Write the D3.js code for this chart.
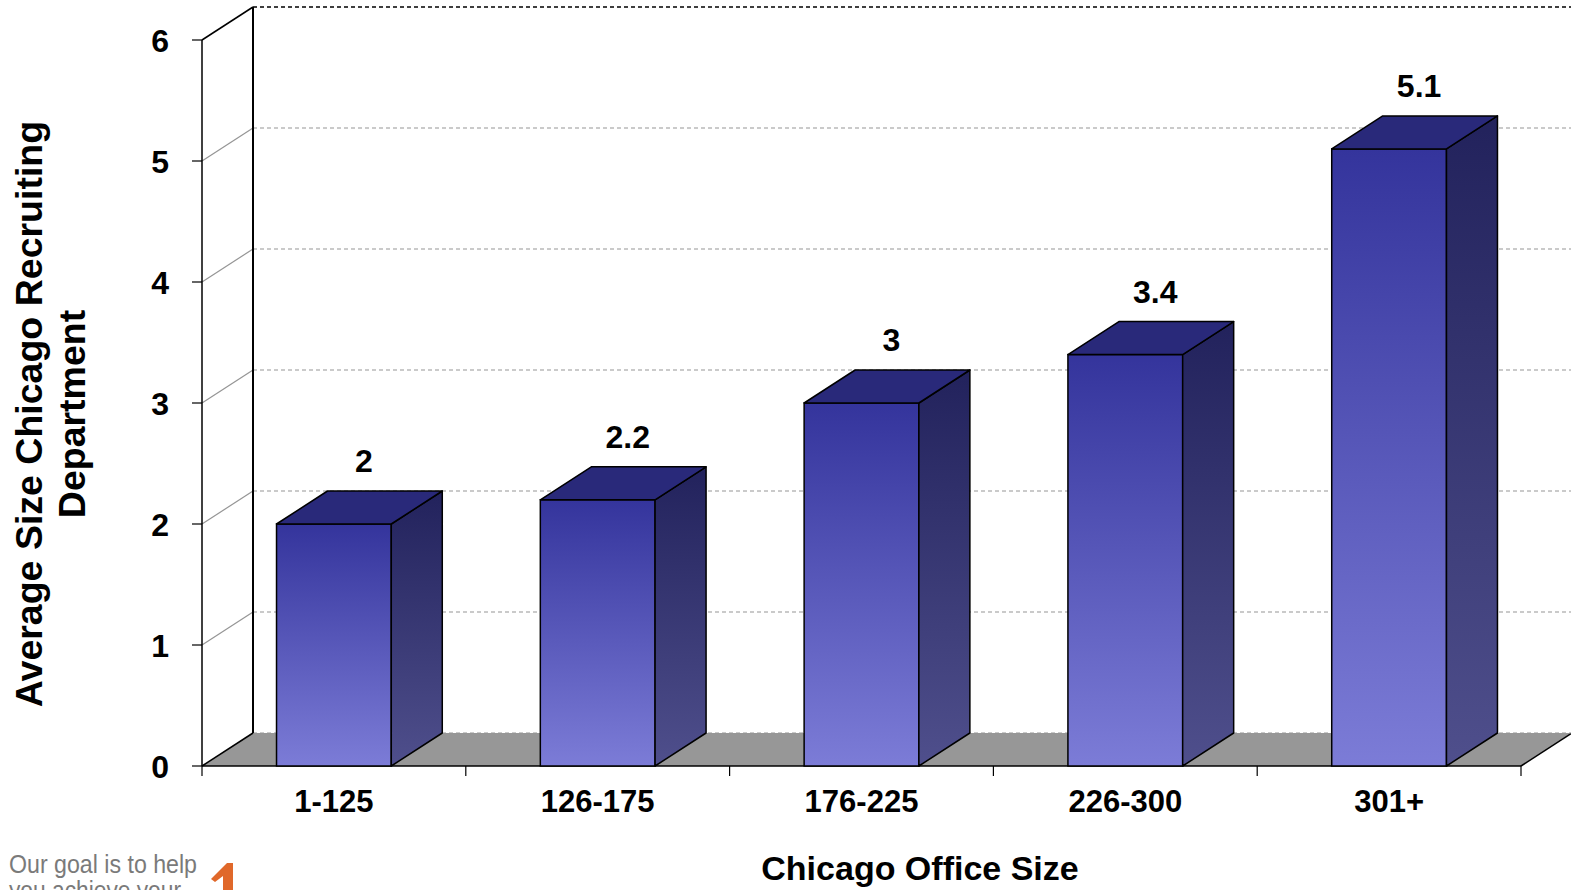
<!DOCTYPE html>
<html>
<head>
<meta charset="utf-8">
<script src="https://cdn.jsdelivr.net/npm/d3@7"></script>
<style>
  html, body { margin: 0; padding: 0; background: #fff; overflow: hidden; }
  svg { display: block; }
  text { font-family: "Liberation Sans", Arial, sans-serif; }
</style>
</head>
<body>
<svg id="chart" width="1571" height="890"></svg>
<script>
// Chart data
const categories = ["1-125", "126-175", "176-225", "226-300", "301+"];
const values = [2, 2.2, 3, 3.4, 5.1];
const valueLabels = ["2", "2.2", "3", "3.4", "5.1"];
const yTicks = [0, 1, 2, 3, 4, 5, 6];
const yTitleLines = ["Average Size Chicago Recruiting", "Department"];
const xTitle = "Chicago Office Size";
const footerLines = ["Our goal is to help", "you achieve your"];

const svg = d3.select("#chart");

// Plot geometry (front plane plus depth offset for the 3D look)
const plotLeft = 202, plotRight = 1521, plotBase = 766, plotTop = 40;
const depthX = 51, depthY = -33;

const x = d3.scaleBand().domain(categories).range([plotLeft, plotRight]).paddingInner(0).paddingOuter(0);
const y = d3.scaleLinear().domain([0, 6]).range([plotBase, plotTop]);
const barW = x.bandwidth() * 0.435;

// Gradients for bar faces
const defs = svg.append("defs");
function vGrad(id, c0, c1) {
  const g = defs.append("linearGradient").attr("id", id)
    .attr("x1", 0).attr("y1", 0).attr("x2", 0).attr("y2", 1);
  g.append("stop").attr("offset", "0%").attr("stop-color", c0);
  g.append("stop").attr("offset", "100%").attr("stop-color", c1);
}
vGrad("frontGrad", "#34349c", "#7c7cd7");
vGrad("sideGrad", "#22225c", "#4f4f8c");

const grid = svg.append("g");

// Floor
const floorPts = [[plotLeft, plotBase], [plotRight, plotBase], [plotRight + depthX, plotBase + depthY], [plotLeft + depthX, plotBase + depthY]];
grid.append("polygon")
  .attr("points", floorPts.map(p => p.join(",")).join(" "))
  .attr("fill", "#979797").attr("stroke", "none");
grid.append("line").attr("x1", plotLeft).attr("y1", plotBase).attr("x2", plotRight).attr("y2", plotBase)
  .attr("stroke", "#000").attr("stroke-width", 1.5);
grid.append("line").attr("x1", plotRight).attr("y1", plotBase).attr("x2", plotRight + depthX).attr("y2", plotBase + depthY)
  .attr("stroke", "#000").attr("stroke-width", 1.5);

// Back wall gridlines and the diagonal connectors on the side wall
yTicks.forEach(v => {
  const yb = y(v) + depthY;
  const edge = v === 0 || v === 6;
  grid.append("line")
    .attr("x1", plotLeft + depthX).attr("y1", yb).attr("x2", plotRight + depthX + 10).attr("y2", yb)
    .attr("stroke", v === 6 ? "#000" : "#959595")
    .attr("stroke-width", v === 6 ? 1.3 : 1.2)
    .attr("stroke-dasharray", "4,3");
  grid.append("line")
    .attr("x1", plotLeft).attr("y1", y(v)).attr("x2", plotLeft + depthX).attr("y2", yb)
    .attr("stroke", edge ? "#000" : "#959595")
    .attr("stroke-width", edge ? 1.5 : 1.2);
});

// Back wall vertical edge
grid.append("line")
  .attr("x1", plotLeft + depthX).attr("y1", y(0) + depthY).attr("x2", plotLeft + depthX).attr("y2", y(6) + depthY)
  .attr("stroke", "#000").attr("stroke-width", 2);

// Front value axis
const yAxis = svg.append("g");
yAxis.append("line").attr("x1", plotLeft).attr("y1", y(0)).attr("x2", plotLeft).attr("y2", y(6))
  .attr("stroke", "#000").attr("stroke-width", 1.5);
yTicks.forEach(v => {
  yAxis.append("line").attr("x1", plotLeft - 10).attr("y1", y(v)).attr("x2", plotLeft).attr("y2", y(v))
    .attr("stroke", "#000").attr("stroke-width", 1.2);
  yAxis.append("text")
    .attr("x", 169).attr("y", y(v)).attr("dy", "0.36em")
    .attr("text-anchor", "end")
    .attr("font-size", 32).attr("font-weight", "bold")
    .text(v);
});

// Category axis ticks and labels
const xAxis = svg.append("g");
const boundaries = categories.map(c => x(c)).concat([plotRight]);
boundaries.forEach(bx => {
  xAxis.append("line").attr("x1", bx).attr("y1", plotBase).attr("x2", bx).attr("y2", plotBase + 10)
    .attr("stroke", "#000").attr("stroke-width", 1.2);
});
categories.forEach(c => {
  xAxis.append("text")
    .attr("x", x(c) + x.bandwidth() / 2).attr("y", 812)
    .attr("text-anchor", "middle")
    .attr("font-size", 31).attr("font-weight", "bold")
    .text(c);
});

// Bars: front face, side face, top face
const bars = svg.append("g");
categories.forEach((c, i) => {
  const bx0 = x(c) + (x.bandwidth() - barW) / 2;
  const bx1 = bx0 + barW;
  const yt = y(values[i]);
  const g = bars.append("g");
  g.append("rect")
    .attr("x", bx0).attr("y", yt).attr("width", barW).attr("height", plotBase - yt)
    .attr("fill", "url(#frontGrad)").attr("stroke", "#000").attr("stroke-width", 1.5);
  const side = [[bx1, yt], [bx1 + depthX, yt + depthY], [bx1 + depthX, plotBase + depthY], [bx1, plotBase]];
  g.append("polygon").attr("points", side.map(p => p.join(",")).join(" "))
    .attr("fill", "url(#sideGrad)").attr("stroke", "#000").attr("stroke-width", 1.5)
    .attr("stroke-linejoin", "round");
  const topFace = [[bx0, yt], [bx0 + depthX, yt + depthY], [bx1 + depthX, yt + depthY], [bx1, yt]];
  g.append("polygon").attr("points", topFace.map(p => p.join(",")).join(" "))
    .attr("fill", "#29297a").attr("stroke", "#000").attr("stroke-width", 1.5)
    .attr("stroke-linejoin", "round");
  g.append("text")
    .attr("x", bx0 + barW / 2 + 30).attr("y", yt - 52)
    .attr("text-anchor", "middle")
    .attr("font-size", 32).attr("font-weight", "bold")
    .text(valueLabels[i]);
});

// Axis titles
const yTitle = svg.append("text")
  .attr("transform", "translate(50,414) rotate(-90)")
  .attr("text-anchor", "middle")
  .attr("font-size", 37.5).attr("font-weight", "bold");
yTitleLines.forEach((t, i) => {
  yTitle.append("tspan").attr("x", 0).attr("y", i === 0 ? -8 : 35).text(t);
});

svg.append("text")
  .attr("x", 920).attr("y", 880)
  .attr("text-anchor", "middle")
  .attr("font-size", 34).attr("font-weight", "bold")
  .text(xTitle);

// Footer slogan and mark
const footerWidths = [188, 172];
footerLines.forEach((t, i) => {
  svg.append("text")
    .attr("x", 9).attr("y", 873 + i * 26)
    .attr("font-family", "'DejaVu Sans', sans-serif")
    .attr("font-weight", 200)
    .attr("font-size", 25)
    .attr("textLength", footerWidths[i])
    .attr("lengthAdjust", "spacingAndGlyphs")
    .attr("fill", "#7a7a7a")
    .text(t);
});
svg.append("polygon")
  .attr("points", "211,879 227,863 233,863 233,890 223,890 223,876 215,882")
  .attr("fill", "#e0682a");
</script>
</body>
</html>
